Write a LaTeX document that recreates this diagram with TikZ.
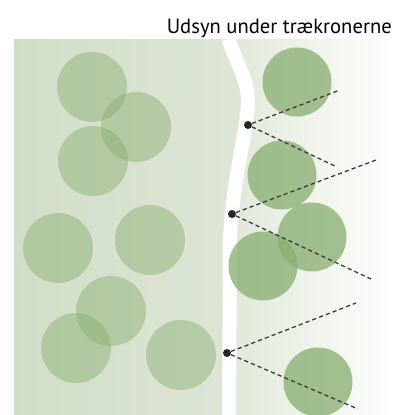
\documentclass[tikz,border=0pt]{standalone}
\usepackage{fontspec}
\setmainfont{PT Sans}
\usepackage{xcolor}
\usetikzlibrary{positioning}
\definecolor{skovVenstre}{HTML}{D1DEC7}
\definecolor{skovMidt}{HTML}{DEE6D6}
\definecolor{lysningMidt}{HTML}{E0E8D9}
\definecolor{kroneGroen}{HTML}{87AD6F}
\definecolor{sigtGraa}{HTML}{3A3A3A}
\newcommand{\stiforloeb}{(228.5,39) .. controls (235,60) and (248,80) .. (248,100)
  .. controls (248,130) and (232,180) .. (230,240) -- (229,415)}

\begin{document}
\begin{tikzpicture}[
  x=0.03cm, y=-0.03cm,
  font=\fontsize{17.6}{20}\selectfont,
  krone/.style={fill=kroneGroen, fill opacity=0.45},
  krone taet/.style={fill=kroneGroen, fill opacity=0.75},
  sti/.style={draw=white, line width=0.42cm},
  punkt/.style={circle, fill=black!85, inner sep=0pt, minimum size=0.24cm},
  sigt/.style={draw=sigtGraa, line width=1.1pt, dash pattern=on 3.6pt off 2.6pt}
]
\useasboundingbox (0,0) rectangle (398,415);
% skov og lysning
\path[left color=skovVenstre, right color=skovMidt] (14,39) -- \stiforloeb -- (14,415) -- cycle;
\path[left color=lysningMidt, right color=white] (398,39) -- \stiforloeb -- (398,415) -- cycle;
\draw[sti] \stiforloeb;
% kroner i skoven
\fill[krone] (92,87) circle (35);
\fill[krone] (136,127) circle (35);
\fill[krone] (93,161) circle (35);
\fill[krone] (58,248) circle (35);
\fill[krone] (150,240) circle (35);
\fill[krone] (111,311) circle (35);
\fill[krone] (76,348) circle (35);
\fill[krone] (181,355) circle (35);
% kroner ved stien
\fill[krone taet] (297,82) circle (34.5);
\fill[krone taet] (282,175) circle (34.5);
\fill[krone taet] (312,237) circle (34.5);
\fill[krone taet] (263,266) circle (34.5);
\fill[krone taet] (318,382) circle (34.5);
% udsigtspunkter
\node[punkt] (p1) at (248,125) {};
\node[punkt] (p2) at (232,214) {};
\node[punkt] (p3) at (227,353) {};
\coordinate (p1a) at (340,90);
\coordinate (p1b) at (337,167);
\coordinate (p2a) at (376,160);
\coordinate (p2b) at (371,279);
\coordinate (p3a) at (356,303);
\coordinate (p3b) at (358,409);
\draw[sigt] (p1) -- (p1a);
\draw[sigt] (p1) -- (p1b);
\draw[sigt] (p2) -- (p2a);
\draw[sigt] (p2) -- (p2b);
\draw[sigt] (p3) -- (p3a);
\draw[sigt] (p3) -- (p3b);
\node[anchor=base east, inner sep=0pt] (titel) at (392,33) {Udsyn under trækronerne};
\end{tikzpicture}
\end{document}
